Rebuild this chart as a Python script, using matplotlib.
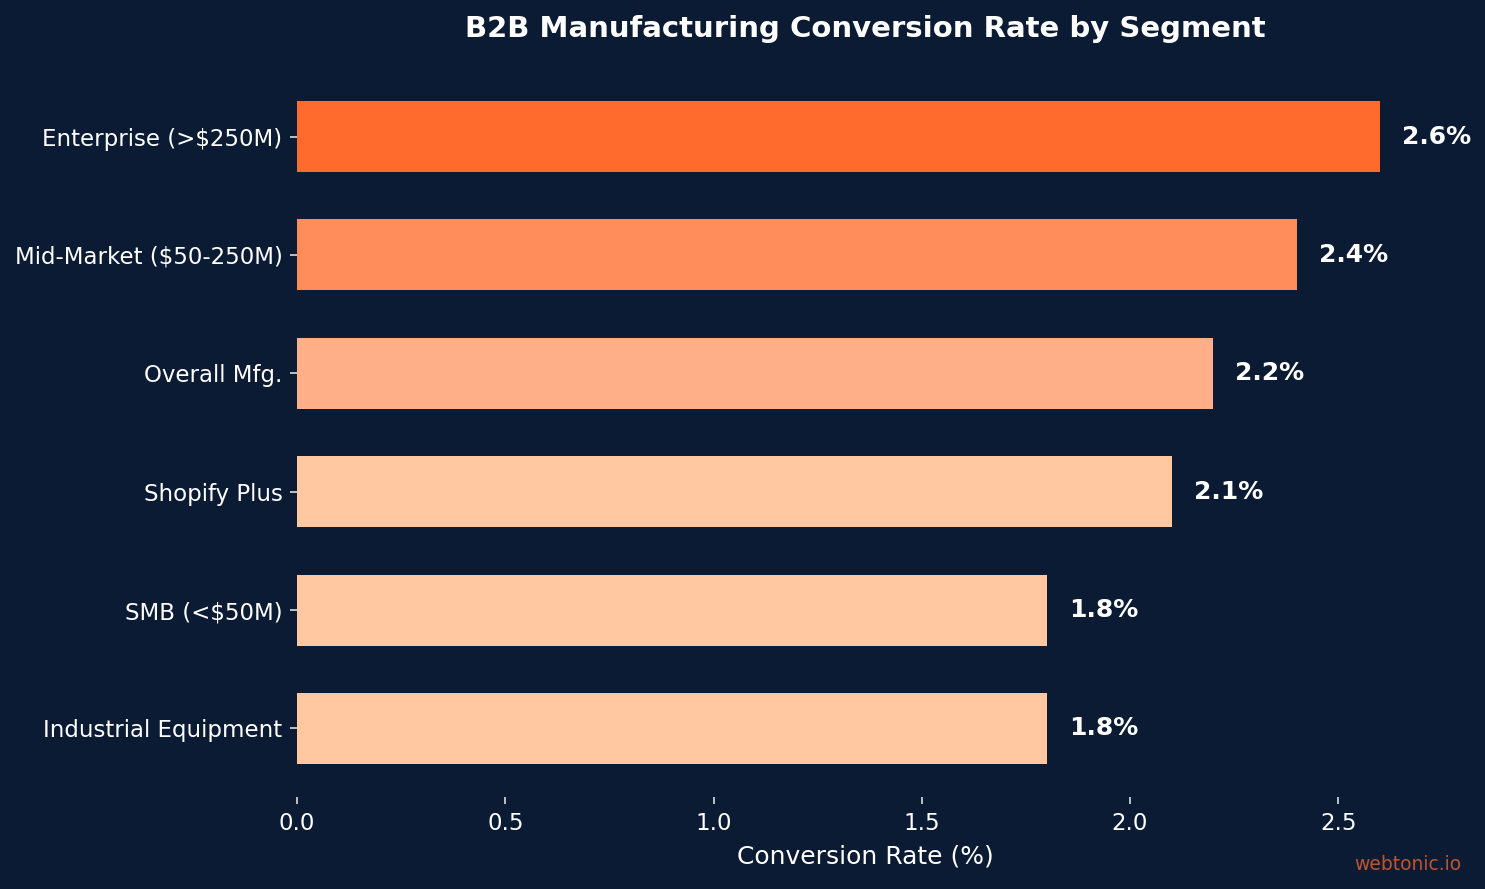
import matplotlib
matplotlib.use("Agg")
import matplotlib.pyplot as plt

categories = ["Industrial Equipment", "SMB (<$50M)", "Shopify Plus", "Overall Mfg.",
              "Mid-Market ($50-250M)", "Enterprise (>$250M)"]
values = [1.8, 1.8, 2.1, 2.2, 2.4, 2.6]
bar_colors = ["#FFC8A0", "#FFC8A0", "#FFC8A0", "#FFAF87", "#FF8C5A", "#FF6B2C"]
value_labels = [f"{v:.1f}%" for v in values]

BG = "#0B1B33"
fig = plt.figure(figsize=(9.9, 5.9267), dpi=150, facecolor=BG)
ax = fig.add_axes([0.2, 0.1035, 0.7657, 0.82])
ax.set_facecolor(BG)

bars = ax.barh(categories, values, height=0.6, color=bar_colors)
for v, lab, b in zip(values, value_labels, bars):
    ax.text(v + 0.053, b.get_y() + b.get_height() / 2, lab, va="center", ha="left",
            color="white", fontsize=12, fontweight="bold")

ax.set_xlim(0, 2.73)
for s in ax.spines.values():
    s.set_visible(False)
ax.tick_params(colors="#DDDDDD", labelsize=11, labelcolor="white")
ax.set_xlabel("Conversion Rate (%)", color="white", fontsize=12, labelpad=5)
ax.set_title("B2B Manufacturing Conversion Rate by Segment", color="white",
             fontsize=14, fontweight="bold", pad=15)
fig.text(0.984, 0.028, "webtonic.io", color="#C0542C", fontsize=9, ha="right", va="center")

fig.savefig("out.png", dpi=150, facecolor=BG)
